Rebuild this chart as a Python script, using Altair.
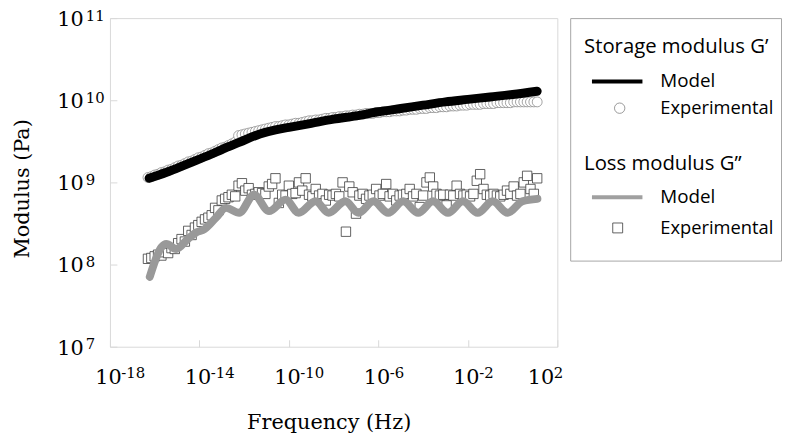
import altair as alt
import pandas as pd

# ---------------- data (log10 f [Hz], log10 modulus [Pa]) ----------------
storage_model_logf = [-16.25, -15.5, -14.5, -13.5, -13.0, -12.2, -11.3, -10.6, -10.0, -9.0,
                      -8.0, -7.0, -6.0, -5.0, -4.0, -3.0, -2.0, -1.0, 0.0, 1.1]
storage_model_logG = [9.05, 9.12, 9.23, 9.34, 9.40, 9.49, 9.59, 9.64, 9.67, 9.72,
                      9.77, 9.81, 9.86, 9.90, 9.94, 9.98, 10.01, 10.04, 10.07, 10.11]

loss_model_logf = [-16.22, -15.70, -15.48, -15.04, -14.52, -14.15, -13.78, -13.26, -12.81, -12.22,
                   -11.56, -10.89, -10.15, -9.56, -8.81, -8.22, -7.48, -6.89, -6.22, -5.56,
                   -4.89, -4.22, -3.56, -2.89, -2.22, -1.56, -0.89, -0.22, 0.44, 1.11]
loss_model_logG = [7.85, 8.21, 8.25, 8.19, 8.31, 8.39, 8.43, 8.57, 8.69, 8.63,
                   8.85, 8.65, 8.79, 8.63, 8.77, 8.63, 8.77, 8.63, 8.77, 8.63,
                   8.77, 8.63, 8.77, 8.63, 8.77, 8.63, 8.77, 8.63, 8.77, 8.80]

# experimental sweep: same frequencies for G' (circles) and G'' (squares)
exp_logf = [-16.3, -16.15, -16.0, -15.85, -15.7, -15.55, -15.4, -15.25, -15.1, -14.95,
            -14.8, -14.65, -14.5, -14.35, -14.2, -14.05, -13.9, -13.75, -13.6, -13.45,
            -13.3, -13.15, -13.0, -12.85, -12.7, -12.55, -12.4, -12.25, -12.1, -11.95,
            -11.8, -11.65, -11.5, -11.35, -11.2, -11.05, -10.9, -10.75, -10.6, -10.45,
            -10.3, -10.15, -10.0, -9.85, -9.7, -9.55, -9.4, -9.25, -9.1, -8.95,
            -8.8, -8.65, -8.5, -8.35, -8.2, -8.05, -7.9, -7.75, -7.6, -7.45,
            -7.3, -7.15, -7.0, -6.85, -6.7, -6.55, -6.4, -6.25, -6.1, -5.95,
            -5.8, -5.65, -5.5, -5.35, -5.2, -5.05, -4.9, -4.75, -4.6, -4.45,
            -4.3, -4.15, -4.0, -3.85, -3.7, -3.55, -3.4, -3.25, -3.1, -2.95,
            -2.8, -2.65, -2.5, -2.35, -2.2, -2.05, -1.9, -1.75, -1.6, -1.45,
            -1.3, -1.15, -1.0, -0.85, -0.7, -0.55, -0.4, -0.25, -0.1, 0.05,
            0.2, 0.35, 0.5, 0.65, 0.8, 0.95, 1.1]
storage_exp_logG = [9.06, 9.07, 9.09, 9.10, 9.12, 9.13, 9.15, 9.16, 9.18, 9.20,
                    9.21, 9.23, 9.25, 9.26, 9.28, 9.30, 9.31, 9.33, 9.35, 9.36,
                    9.38, 9.40, 9.42, 9.43, 9.45, 9.47, 9.49, 9.57, 9.58, 9.59,
                    9.60, 9.61, 9.62, 9.63, 9.64, 9.65, 9.66, 9.67, 9.68, 9.68,
                    9.69, 9.70, 9.70, 9.71, 9.72, 9.72, 9.73, 9.74, 9.75, 9.75,
                    9.76, 9.76, 9.77, 9.78, 9.78, 9.79, 9.79, 9.80, 9.80, 9.81,
                    9.81, 9.82, 9.82, 9.83, 9.83, 9.84, 9.84, 9.84, 9.85, 9.85,
                    9.86, 9.86, 9.86, 9.87, 9.87, 9.87, 9.88, 9.88, 9.89, 9.89,
                    9.89, 9.90, 9.90, 9.90, 9.91, 9.91, 9.91, 9.92, 9.92, 9.92,
                    9.93, 9.93, 9.93, 9.94, 9.94, 9.94, 9.95, 9.95, 9.95, 9.95,
                    9.96, 9.96, 9.96, 9.96, 9.97, 9.97, 9.97, 9.97, 9.97, 9.98,
                    9.98, 9.98, 9.98, 9.98, 9.98, 9.98, 9.98]
loss_exp_logG = [8.07, 8.08, 8.10, 8.12, 8.11, 8.15, 8.14, 8.20, 8.19, 8.26,
                 8.31, 8.28, 8.41, 8.36, 8.45, 8.48, 8.52, 8.55, 8.57, 8.60,
                 8.69, 8.66, 8.78, 8.80, 8.82, 8.85, 8.83, 8.96, 8.99, 8.90,
                 8.93, 8.85, 8.86, 8.88, 8.87, 8.86, 8.95, 8.98, 9.05, 8.75,
                 8.85, 8.84, 8.96, 8.86, 8.87, 9.00, 8.90, 9.05, 8.85, 8.83,
                 8.92, 8.84, 8.86, 8.78, 8.85, 8.84, 8.86, 8.83, 9.00, 8.40,
                 8.95, 8.88, 8.62, 8.84, 8.86, 8.80, 8.84, 8.85, 8.92, 8.84,
                 8.86, 8.98, 8.83, 8.86, 8.78, 8.84, 8.85, 8.86, 8.92, 8.83,
                 8.86, 8.70, 8.84, 9.00, 9.06, 8.95, 8.86, 8.84, 8.85, 8.72,
                 8.85, 8.84, 8.96, 8.86, 8.84, 8.85, 8.83, 8.86, 9.02, 9.10,
                 8.92, 8.85, 8.84, 8.86, 8.84, 8.83, 8.85, 8.90, 8.86, 8.95,
                 8.84, 8.86, 9.00, 9.08, 8.92, 8.86, 9.05]

x_tick_exp = [-18, -14, -10, -6, -2, 2]
y_tick_exp = [7, 8, 9, 10, 11]

x_title = "Frequency (Hz)"
y_title = "Modulus (Pa)"
legend_title_storage = "Storage modulus G’"
legend_title_loss = "Loss modulus G”"
legend_model = "Model"
legend_exp = "Experimental"

assert len(exp_logf) == len(storage_exp_logG) == len(loss_exp_logG)
assert len(loss_model_logf) == len(loss_model_logG)
assert len(storage_model_logf) == len(storage_model_logG)


def frame(logf, logG):
    return pd.DataFrame({"f": [10.0 ** v for v in logf], "G": [10.0 ** v for v in logG]})


W, H = 452, 332
SERIF = "DejaVu Serif"
SANS = "Open Sans"
GRID = "#d9d9d9"

xs = alt.Scale(type="log", domain=[1e-18, 1e2], nice=False)
ys = alt.Scale(type="log", domain=[1e7, 1e11], nice=False)
xvals = [10.0 ** e for e in x_tick_exp]
yvals = [10.0 ** e for e in y_tick_exp]
EXP = "'' + round(log(datum.value) / LN10)"

common = dict(labelFont=SERIF, labelColor="black", labelFlush=False, labelOverlap=False,
              ticks=False, tickSize=0, domain=False, grid=False)

x_base = alt.Axis(orient="bottom", values=xvals, labelExpr="'10'", labelFontSize=21,
                  labelAlign="center", labelBaseline="middle", labelPadding=31,
                  labelOffset={"condition": {"test": "datum.value > 10", "value": -17}, "value": -2},
                  title=x_title, titleFont=SERIF, titleFontSize=21, titleFontWeight="normal",
                  titleColor="black", titleX=W / 2 - 5, titleY=77, titleAlign="center",
                  titleBaseline="middle", **common)
x_exp = alt.Axis(orient="bottom", values=xvals, labelExpr=EXP, labelFontSize=15,
                 labelAlign="left", labelBaseline="middle", labelPadding=26,
                 labelOffset={"condition": {"test": "datum.value > 10", "value": -4}, "value": 11},
                 title=None, **common)
y_base = alt.Axis(orient="left", values=yvals, labelExpr="'10'", labelFontSize=21,
                  labelAlign="right", labelBaseline="middle", labelPadding=27, labelOffset=1.5,
                  title=y_title, titleFont=SERIF, titleFontSize=21, titleFontWeight="normal",
                  titleColor="black", titleX=-88.5, titleY=172, titleAlign="center",
                  titleBaseline="middle", **common)
y_exp = alt.Axis(orient="left", values=yvals, labelExpr=EXP, labelFontSize=15,
                 labelAlign="left", labelBaseline="middle", labelPadding=25,
                 labelOffset=-3, title=None, **common)
x_ticks = alt.Axis(orient="top", offset=-H, values=xvals, labels=False, domain=False,
                   ticks=True, tickSize=7, tickColor=GRID, grid=False, title=None)
y_ticks = alt.Axis(orient="right", offset=-W, values=yvals, labels=False, domain=False,
                   ticks=True, tickSize=7, tickColor=GRID, grid=False, title=None)

circles = alt.Chart(frame(exp_logf, storage_exp_logG)).mark_point(
    shape="circle", size=100, filled=True, fill="white", stroke="#8c8c8c",
    strokeWidth=0.8, opacity=1
).encode(x=alt.X("f:Q", scale=xs, axis=x_base), y=alt.Y("G:Q", scale=ys, axis=y_base))

squares = alt.Chart(frame(exp_logf, loss_exp_logG)).mark_point(
    shape="square", size=90, filled=True, fill="white", stroke="#3a3a3a",
    strokeWidth=0.8, opacity=1
).encode(x=alt.X("f:Q", scale=xs, axis=x_exp), y=alt.Y("G:Q", scale=ys, axis=y_exp))

storage_line = alt.Chart(frame(storage_model_logf, storage_model_logG)).mark_line(
    color="black", strokeWidth=9, strokeCap="round", interpolate="monotone"
).encode(x=alt.X("f:Q", scale=xs, axis=x_ticks), y=alt.Y("G:Q", scale=ys, axis=y_ticks))

loss_line = alt.Chart(frame(loss_model_logf, loss_model_logG)).mark_line(
    color="#999999", strokeWidth=8, strokeCap="round", interpolate="monotone"
).encode(x=alt.X("f:Q", scale=xs, axis=None), y=alt.Y("G:Q", scale=ys, axis=None))

main = alt.layer(circles, squares, storage_line, loss_line).resolve_axis(
    x="independent", y="independent"
).properties(width=W, height=H, view=alt.ViewBackground(stroke=GRID, strokeWidth=1))

# ---------------- legend panel ----------------
LW, LH = 213, 245
one = pd.DataFrame({"k": [0]})


def ltext(s, x, y, size):
    return alt.Chart(pd.DataFrame({"t": [s]})).mark_text(
        font=SANS, fontSize=size, align="left", baseline="middle", color="black"
    ).encode(text="t:N", x=alt.value(x), y=alt.value(y))


leg_layers = [
    ltext(legend_title_storage, 14, 29, 20.5),
    ltext(legend_model, 91, 64, 19),
    ltext(legend_exp, 91, 91, 18.5),
    ltext(legend_title_loss, 14, 147, 20.5),
    ltext(legend_model, 91, 181, 19),
    ltext(legend_exp, 91, 212, 18.5),
    alt.Chart(one).mark_rule(color="black", strokeWidth=4).encode(
        x=alt.value(22), x2=alt.value(73), y=alt.value(64)),
    alt.Chart(one).mark_rule(color="#a0a0a0", strokeWidth=4).encode(
        x=alt.value(22), x2=alt.value(73), y=alt.value(181)),
    alt.Chart(one).mark_point(shape="circle", size=110, filled=True, fill="white",
                              stroke="#808080", strokeWidth=0.8, opacity=1).encode(
        x=alt.value(50), y=alt.value(91)),
    alt.Chart(one).mark_point(shape="square", size=100, filled=True, fill="white",
                              stroke="#3a3a3a", strokeWidth=0.8, opacity=1).encode(
        x=alt.value(48), y=alt.value(212)),
]
legend = alt.layer(*leg_layers).properties(
    width=LW, height=LH, view=alt.ViewBackground(stroke="#a6a6a6", strokeWidth=1)
)

chart = alt.hconcat(main, legend, spacing=13, bounds="flush").properties(
    padding={"left": 3, "top": -3, "right": 0, "bottom": 0}
)

chart.save("out.html", embed_options={"renderer": "svg", "actions": False})
